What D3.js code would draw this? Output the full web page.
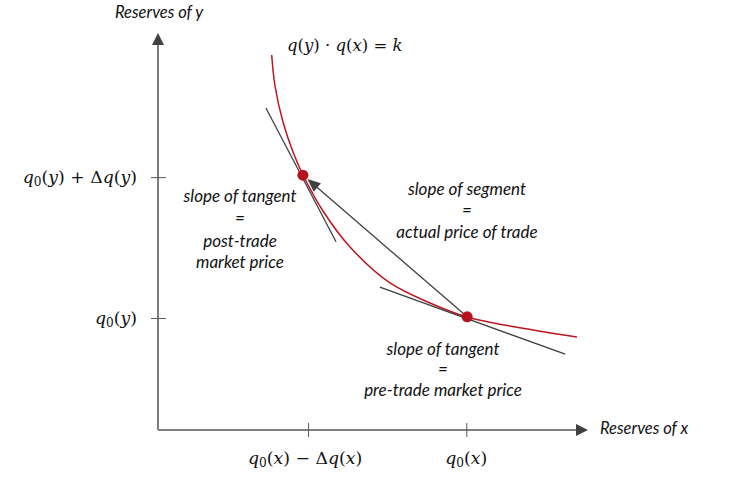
<!DOCTYPE html>
<html>
<head>
<meta charset="utf-8">
<script src="https://cdn.jsdelivr.net/npm/d3@7"></script>
<style>
  html, body { margin: 0; padding: 0; background: #fff; }
  svg { display: block; }
</style>
</head>
<body>
<svg id="chart" width="729" height="478"></svg>
<script>
// ---- data (unitless reserves 0..10) ----
const curveX = [2.644, 2.721, 2.907, 3.140, 3.372, 3.837, 4.465, 5.395, 6.326, 7.186, 8.721, 9.744];
const curveY = [9.446, 8.665, 7.758, 7.003, 6.423, 5.516, 4.610, 3.703, 3.199, 2.846, 2.519, 2.343];

const pointX = [3.37, 7.19];          // post-trade, pre-trade
const pointY = [6.42, 2.85];

const tangentA = { x: [2.51, 4.14], y: [8.11, 4.74] };
const tangentB = { x: [5.16, 9.47], y: [3.60, 1.91] };

const xTickValues = [3.49, 7.17];
const yTickValues = [6.37, 2.82];

const xTickLabels = [["q","0","(x) − Δ","q","(x)"], ["q","0","(x)"]];
const yTickLabels = [["q","0","(y) + Δ","q","(y)"], ["q","0","(y)"]];

const noteTangentPost = ["slope of tangent", "=", "post-trade", "market price"];
const noteSegment = ["slope of segment", "=", "actual price of trade"];
const noteTangentPre = ["slope of tangent", "=", "pre-trade market price"];

// ---- setup ----
const svg = d3.select("#chart");
const x = d3.scaleLinear().domain([0, 10]).range([158, 588]);
const y = d3.scaleLinear().domain([0, 10]).range([430, 33]);

const axisColor = "#7f7f7f";
const darkGray = "#404040";
const red = "#c0141f";
const textColor = "#111";
const mathFont = "'DejaVu Serif', 'Liberation Serif', serif";
const textFont = "Lato, 'Open Sans', sans-serif";

// ---- axes ----
const x0 = x(0), y0 = y(0), xEnd = x(10), yEnd = y(10);
svg.append("line").attr("x1", x0).attr("y1", y0).attr("x2", x0).attr("y2", yEnd + 10)
  .attr("stroke", axisColor).attr("stroke-width", 2);
svg.append("line").attr("x1", x0).attr("y1", y0).attr("x2", xEnd - 10).attr("y2", y0)
  .attr("stroke", axisColor).attr("stroke-width", 2);
svg.append("path")
  .attr("d", `M${x0},${yEnd} L${x0 - 6},${yEnd + 12} L${x0 + 6},${yEnd + 12} Z`)
  .attr("fill", darkGray);
svg.append("path")
  .attr("d", `M${xEnd},${y0} L${xEnd - 12},${y0 - 6} L${xEnd - 12},${y0 + 6} Z`)
  .attr("fill", darkGray);

const xAxis = svg.append("g").attr("transform", `translate(0,${y0})`)
  .call(d3.axisBottom(x).tickValues(xTickValues).tickSize(7).tickFormat(""));
xAxis.select(".domain").remove();
xAxis.selectAll(".tick line").attr("y1", -7).attr("stroke", "#595959");

const yAxis = svg.append("g").attr("transform", `translate(${x0},0)`)
  .call(d3.axisLeft(y).tickValues(yTickValues).tickSize(7).tickFormat(""));
yAxis.select(".domain").remove();
yAxis.selectAll(".tick line").attr("x1", 8).attr("stroke", "#595959");

// math label helper: italic q, x, y; subscript 0
function mathText(sel, parts) {
  parts.forEach((p, i) => {
    if (p === "q") { sel.append("tspan").text(p).attr("font-style", "italic"); return; }
    if (p === "0") { sel.append("tspan").text(p).attr("font-size", "0.7em").attr("dy", "0.25em"); return; }
    const chunks = p.split(/([xy])/).filter(c => c !== "");
    chunks.forEach((c, j) => {
      const s = sel.append("tspan").text(c);
      if (j === 0 && i > 0 && parts[i - 1] === "0") s.attr("dy", "-0.175em");
      if (c === "x" || c === "y") s.attr("font-style", "italic");
    });
  });
}

xTickValues.forEach((v, i) => {
  const t = svg.append("text").attr("x", x(v) - (i === 0 ? 3 : 0)).attr("y", 464)
    .attr("text-anchor", "middle").attr("font-family", mathFont).attr("font-size", 17.3)
    .attr("fill", textColor);
  mathText(t, xTickLabels[i]);
});
yTickValues.forEach((v, i) => {
  const t = svg.append("text").attr("x", 137).attr("y", y(v) + 6)
    .attr("text-anchor", "end").attr("font-family", mathFont).attr("font-size", 17.3)
    .attr("fill", textColor);
  mathText(t, yTickLabels[i]);
});

// axis titles
svg.append("text").attr("x", 115).attr("y", 18).text("Reserves of y")
  .attr("font-family", textFont).attr("font-style", "italic").attr("font-size", 16.5).attr("fill", textColor);
svg.append("text").attr("x", 600).attr("y", 434).text("Reserves of x")
  .attr("font-family", textFont).attr("font-style", "italic").attr("font-size", 16.5).attr("fill", textColor);

// formula
const f = svg.append("text").attr("x", 287).attr("y", 51)
  .attr("font-family", mathFont).attr("font-size", 16.5).attr("fill", textColor);
[["q", 1], ["(", 0], ["y", 1], [") · ", 0], ["q", 1], ["(", 0], ["x", 1], [") = ", 0], ["k", 1]]
  .forEach(([s, it]) => f.append("tspan").text(s).attr("font-style", it ? "italic" : "normal"));

// ---- curve ----
const curveData = curveX.map((d, i) => [d, curveY[i]]);
svg.append("path").datum(curveData)
  .attr("d", d3.line().x(d => x(d[0])).y(d => y(d[1])).curve(d3.curveCatmullRom.alpha(0.5)))
  .attr("fill", "none").attr("stroke", red).attr("stroke-width", 1.5);

// tangents
[tangentA, tangentB].forEach(tg => {
  svg.append("line")
    .attr("x1", x(tg.x[0])).attr("y1", y(tg.y[0]))
    .attr("x2", x(tg.x[1])).attr("y2", y(tg.y[1]))
    .attr("stroke", darkGray).attr("stroke-width", 1.3);
});

// segment arrow from pre-trade to post-trade
const ax = x(pointX[1]), ay = y(pointY[1]), bx = x(pointX[0]), by = y(pointY[0]);
const dx = bx - ax, dy = by - ay, len = Math.hypot(dx, dy);
const ux = dx / len, uy = dy / len;
const tipX = bx - ux * 6, tipY = by - uy * 6;
const headLen = 13, headW = 5.5;
const baseX = tipX - ux * headLen, baseY = tipY - uy * headLen;
svg.append("line").attr("x1", ax).attr("y1", ay).attr("x2", baseX + ux * 2).attr("y2", baseY + uy * 2)
  .attr("stroke", darkGray).attr("stroke-width", 1.3);
svg.append("path")
  .attr("d", `M${tipX},${tipY} L${baseX - uy * headW},${baseY + ux * headW} L${baseX + uy * headW},${baseY - ux * headW} Z`)
  .attr("fill", darkGray);

// points
svg.selectAll("circle.pt").data(pointX).enter().append("circle")
  .attr("cx", d => x(d)).attr("cy", (d, i) => y(pointY[i])).attr("r", 5.5)
  .attr("fill", "#b5121b");

// notes
function note(lines, cx, ys) {
  lines.forEach((l, i) => {
    svg.append("text").attr("x", cx).attr("y", ys[i]).text(l)
      .attr("text-anchor", "middle").attr("font-family", textFont).attr("font-style", "italic")
      .attr("font-size", 17).attr("fill", textColor);
  });
}
note(noteTangentPost, 240, [202, 224, 247, 268]);
note(noteSegment, 467, [195, 216, 238]);
note(noteTangentPre, 443, [355, 375, 396]);
</script>
</body>
</html>
